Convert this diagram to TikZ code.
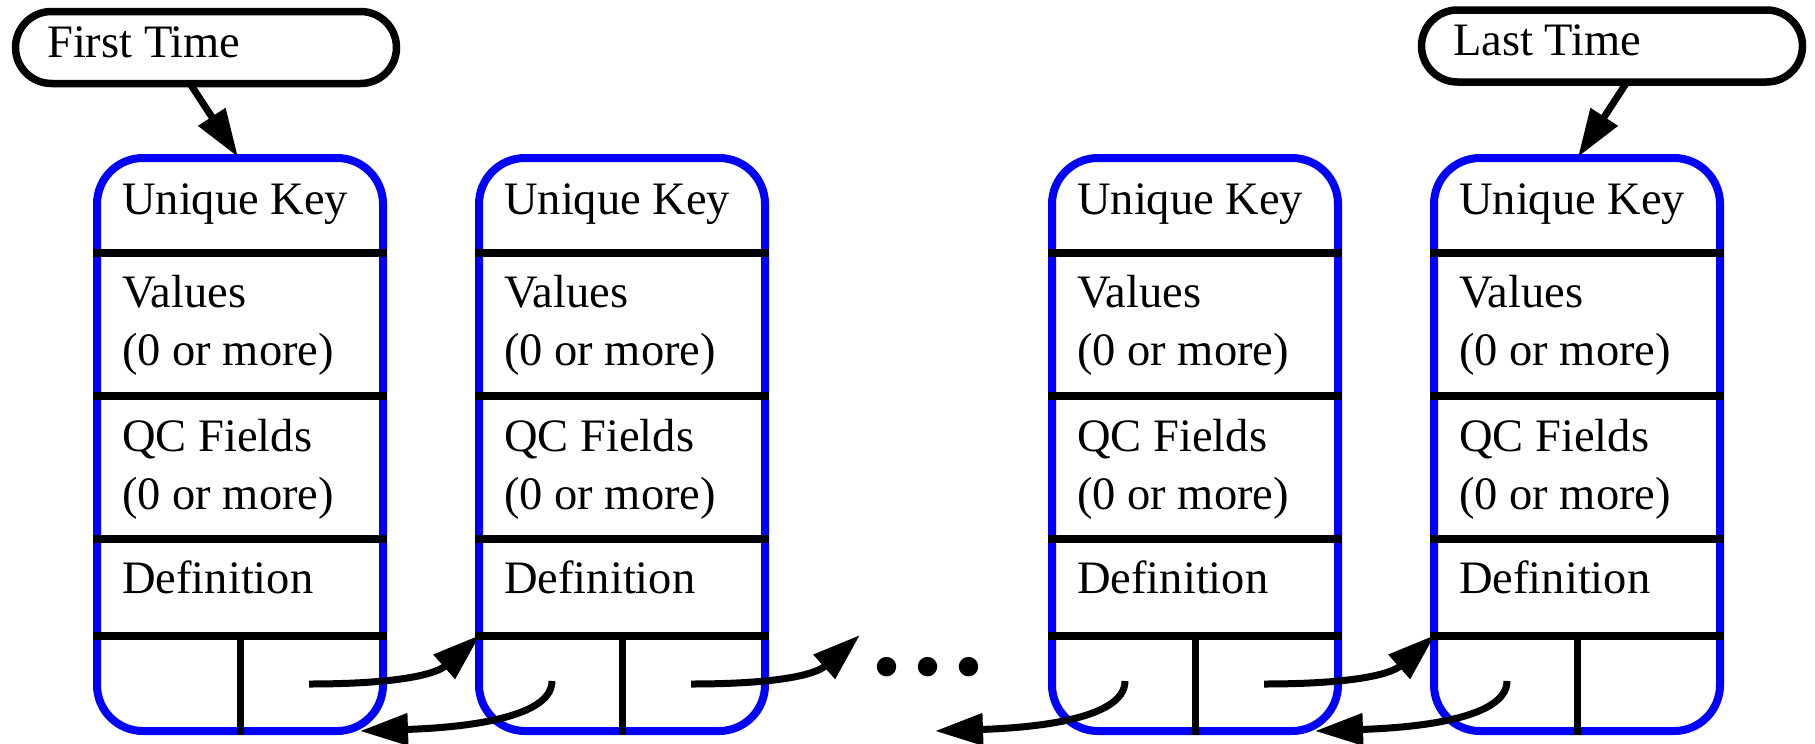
\documentclass[tikz,border=0pt]{standalone}
\usepackage{fontspec}
\setmainfont{Liberation Serif}
\usetikzlibrary{arrows.meta}
\tikzset{
 pill/.style={draw=black, line width=7.5pt, rounded corners=36pt, minimum width=381pt, minimum height=72pt, inner sep=0pt, outer sep=0pt},
 rec/.style={draw=blue, line width=8pt, rounded corners=46pt, minimum width=286pt, minimum height=573pt, inner sep=0pt, outer sep=0pt},
 sepline/.style={line width=8pt},
 vsep/.style={line width=7pt},
 ptr/.style={line width=7pt, -{Triangle[length=48pt,width=31pt]}},
 lbl/.style={anchor=base west, inner sep=0pt, font=\fontsize{46.5}{56}\selectfont},
}
\begin{document}
\begin{tikzpicture}[x=1pt,y=-1pt]
\useasboundingbox (0,0) rectangle (1815,744);
% time pills
\node[pill] (ft) at (206,47.5) {};
\node[lbl] (ftl) at (47,57) {First Time};
\node[pill] (lt) at (1612,46) {};
\node[lbl] (ltl) at (1453,55) {Last Time};
% record boxes
\foreach \n/\x in {1/97,2/479,3/1052,4/1434} {
 \begin{scope}[xshift=\x pt]
  \node[rec, anchor=north west] (b\n) at (0,158) {};
  \draw[sepline] (-4,253) -- (290,253);
  \draw[sepline] (-4,396) -- (290,396);
  \draw[sepline] (-4,539) -- (290,539);
  \draw[sepline] (-4,636) -- (290,636);
  \draw[vsep] (143,636) -- (143,735);
  \node[lbl] (k\n) at (25,214) {Unique Key};
  \node[lbl] (v\n) at (25,307) {Values};
  \node[lbl] (va\n) at (25,365) {(0 or more)};
  \node[lbl] (q\n) at (25,451) {QC Fields};
  \node[lbl] (qa\n) at (25,509) {(0 or more)};
  \node[lbl] (d\n) at (25,593) {Definition};
  \coordinate (nx\n) at (212,684);
  \coordinate (pv\n) at (73,681);
  \coordinate (in\n) at (1,635);
  \coordinate (pt\n) at (263,731);
 \end{scope}
}
% dots
\node[anchor=base west, inner sep=0pt, font=\fontsize{164}{170}\selectfont] (dots) at (866,674) {...};
\coordinate (dotsin) at (860,635);
\coordinate (dotsout) at (935,731);
% arrows
\draw[ptr] ([xshift=-16pt]ft.south) -- ([xshift=-2pt,yshift=1pt]b1.north);
\draw[ptr] ([xshift=15pt]lt.south) -- ([xshift=1pt,yshift=1pt]b4.north);
\draw[ptr] (nx1) .. controls +(85,0) and +(-45,40) .. (in2);
\draw[ptr] (pv2) .. controls +(0,40) and +(90,-3) .. (pt1);
\draw[ptr] (nx2) .. controls +(85,0) and +(-45,40) .. (dotsin);
\draw[ptr] (pv3) .. controls +(0,40) and +(90,-3) .. (dotsout);
\draw[ptr] (nx3) .. controls +(85,0) and +(-45,40) .. (in4);
\draw[ptr] (pv4) .. controls +(0,40) and +(90,-3) .. (pt3);
\end{tikzpicture}
\end{document}
